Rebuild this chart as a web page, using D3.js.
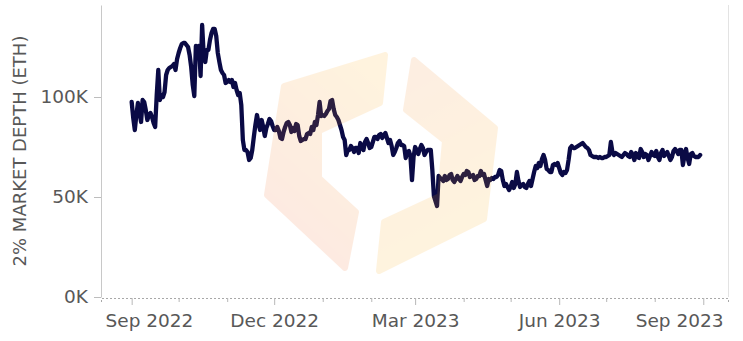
<!DOCTYPE html>
<html>
<head>
<meta charset="utf-8">
<script src="https://cdn.jsdelivr.net/npm/d3@7"></script>
<style>
  html, body { margin: 0; padding: 0; background: #fff; }
  svg { display: block; font-family: "DejaVu Sans", Verdana, sans-serif; }
</style>
</head>
<body>
<svg id="chart" width="743" height="341"></svg>
<script>
// Daily 2% market depth on ETH order books, in thousands of ETH, from seriesStart.
const seriesStart = "2022-09-01";
const depthK = [
  97.5, 89.5, 83.5, 91, 97, 92.5, 87.5, 98.5, 97.5, 93.5,
  88.5, 91, 92, 90, 87, 85, 101, 113.5, 98.5, 101,
  100, 102.5, 111, 113.5, 114.5, 115, 115.5, 116.5, 113.5, 119,
  122, 124.5, 126.5, 127, 127, 126, 125, 121, 115, 106,
  100.5, 125.5, 123.5, 125.5, 110.5, 136, 121, 117.5, 123.5, 123.5,
  128.5, 132, 134, 134, 130.5, 122, 117.5, 113.5, 112, 111,
  107, 107.5, 108.5, 107.5, 108.5, 105, 107, 103.5, 101, 102,
  96, 78.5, 73.5, 73.5, 72.5, 68.5, 69.5, 73.5, 80, 86,
  91, 87, 83.5, 88.5, 85, 80.5, 84.5, 86.5, 89, 88,
  85.5, 83.5, 83.5, 85, 83, 79.5, 79, 82.5, 85, 87,
  87.5, 86, 82.5, 84.5, 83, 86.5, 86, 80.5, 78, 78.5,
  79, 79, 81.5, 82, 81.5, 85, 83.5, 87.5, 86, 91,
  97.5, 90.5, 91, 90.5, 91.5, 93, 94, 98, 98.5, 94,
  91, 90, 88.5, 86, 83.5, 80, 78.5, 71, 73.5, 73.5,
  75.5, 74.5, 72.5, 74.5, 74.5, 72, 77, 75, 73.5, 77.5,
  79, 77, 74.5, 75, 77.5, 80, 80, 79, 81, 81.5,
  79.5, 81, 82, 79.5, 77, 78.5, 75.5, 71, 72.5, 74.5,
  77, 78, 76, 76, 75.5, 69.5, 72.5, 73, 70.5, 58.5,
  70, 75, 73.5, 71.5, 74, 76, 74.5, 71, 72.5, 73.5,
  73.5, 73.5, 63.5, 50.5, 48, 45.5, 60.5, 59.5, 59, 58,
  60.5, 58.5, 59, 61, 61.5, 58.5, 57.5, 59, 60.5, 59,
  58, 60, 61.5, 61, 63, 62.5, 60, 60.5, 61, 58.5,
  59, 60.5, 60.5, 63, 61, 61.5, 58.5, 55.5, 59, 58.5,
  59.5, 59, 60, 60, 61, 63.5, 63, 58.5, 55.5, 56.5,
  55, 53.5, 55, 57.5, 54.5, 56.5, 62.5, 58, 55, 56,
  56.5, 55, 54.5, 56.5, 58, 55.5, 59, 62.5, 65.5, 64.5,
  67, 65.5, 69, 71, 68.5, 64, 63.5, 62.5, 62.5, 66,
  66.5, 66, 67, 64.5, 62, 61, 62.5, 62, 63.5, 68.5,
  74.5, 75.5, 74.5, 74.5, 75, 75.5, 76, 76.5, 77, 76,
  75, 74.5, 73.5, 71, 70.5, 70, 70, 70, 69.5, 70,
  69.5, 69.5, 70, 70, 70.5, 71, 77.5, 72.5, 71, 72,
  71.5, 71, 70.5, 70, 71, 72, 71.5, 70.5, 70, 72.5,
  71, 68.5, 72, 70, 69.5, 74, 72.5, 70, 71.5, 71,
  68.5, 70.5, 72.5, 71, 70.5, 73, 70, 68.5, 72, 73.5,
  70.5, 71.5, 72.5, 70.5, 68.5, 70, 73, 74, 73, 71.5,
  73.5, 73.5, 66, 70.5, 74, 69.5, 66.5, 71.5, 72, 70.5,
  70, 70, 70, 71
];
const xDomainBounds = ["2022-08-12 10:00", "2023-09-16 19:00"];
const yDomainK = [0, 146];
const yTickValues = [0, 50, 100];
const yTitle = "2% MARKET DEPTH (ETH)";

const width = 743, height = 341;
const plot = { left: 101, right: 728, top: 5, bottom: 297 };
const textColor = "#585858";
const fontSize = 18.5;

const parseDay = d3.timeParse("%Y-%m-%d");
const parseStamp = d3.timeParse("%Y-%m-%d %H:%M");
const start = parseDay(seriesStart);
const points = depthK.map((v, i) => ({ date: d3.timeDay.offset(start, i), value: v }));

const svg = d3.select("#chart");

const x = d3.scaleTime()
  .domain(xDomainBounds.map(parseStamp))
  .range([plot.left, plot.right]);
const y = d3.scaleLinear()
  .domain(yDomainK)
  .range([plot.bottom, plot.top]);

// right frame edge
svg.append("line")
  .attr("x1", plot.right + 0.5).attr("x2", plot.right + 0.5)
  .attr("y1", plot.top).attr("y2", plot.bottom)
  .attr("stroke", "#e3e3e3").attr("stroke-width", 1);

// y axis
const yAxis = svg.append("g")
  .attr("transform", `translate(${plot.left},0)`)
  .call(d3.axisLeft(y)
    .tickValues(yTickValues)
    .tickFormat(d => d + "K")
    .tickSize(7)
    .tickSizeOuter(0)
    .tickPadding(6));
yAxis.select(".domain").attr("stroke", "#c8c8c8");
yAxis.selectAll(".tick line").attr("stroke", "#bdbdbd");
yAxis.selectAll(".tick text")
  .attr("fill", textColor)
  .style("font-size", fontSize + "px")
  .style("font-family", "'DejaVu Sans', Verdana, sans-serif");

// x axis: monthly ticks, quarter months labelled
const isQuarter = d => d.getMonth() % 3 === 2;
const fmt = d3.timeFormat("%b %Y");
const xAxis = svg.append("g")
  .attr("transform", `translate(0,${plot.bottom + 1})`)
  .call(d3.axisBottom(x)
    .ticks(d3.timeMonth.every(1))
    .tickFormat(d => isQuarter(d) ? fmt(d) : "")
    .tickSizeOuter(0)
    .tickSize(4));
xAxis.select(".domain")
  .attr("stroke", "#a8a8a8")
  .attr("stroke-dasharray", "2,2");
xAxis.selectAll(".tick line")
  .attr("stroke", "#b8b8b8")
  .attr("y2", d => isQuarter(d) ? 7 : 4);
xAxis.selectAll(".tick text")
  .attr("fill", textColor)
  .attr("y", 16)
  .style("font-size", fontSize + "px")
  .style("font-family", "'DejaVu Sans', Verdana, sans-serif");

// keep edge labels inside the plot frame
xAxis.selectAll(".tick").each(function (d) {
  const t = d3.select(this).select("text");
  const node = t.node();
  if (!node || !node.textContent) return;
  const w = node.getComputedTextLength();
  const cx = x(d);
  let left = cx - w / 2;
  const minLeft = plot.left + 4, maxRight = plot.right - 5;
  if (left < minLeft) left = minLeft;
  if (left + w > maxRight) left = maxRight - w;
  t.attr("x", left + w / 2 - cx);
});

// y axis title
svg.append("text")
  .attr("transform", `translate(26,${(plot.top + plot.bottom) / 2}) rotate(-90)`)
  .attr("text-anchor", "middle")
  .attr("fill", textColor)
  .style("font-size", "18px")
  .text(yTitle);

// depth line
const line = d3.line()
  .x(d => x(d.date))
  .y(d => y(d.value));
svg.append("path")
  .datum(points)
  .attr("fill", "none")
  .attr("stroke", "#0a0a45")
  .attr("stroke-width", 4.3)
  .attr("stroke-linejoin", "round")
  .attr("stroke-linecap", "round")
  .attr("d", line);

// translucent brand mark over the plot
const defs = svg.append("defs");
const gLeft = defs.append("linearGradient").attr("id", "markLeft")
  .attr("x1", "0.7").attr("y1", "0").attr("x2", "0.2").attr("y2", "1");
gLeft.append("stop").attr("offset", "0").attr("stop-color", "#ffae1c");
gLeft.append("stop").attr("offset", "0.55").attr("stop-color", "#f7862a");
gLeft.append("stop").attr("offset", "1").attr("stop-color", "#f06438");
const gRight = defs.append("linearGradient").attr("id", "markRight")
  .attr("x1", "0.3").attr("y1", "0").attr("x2", "0.6").attr("y2", "1");
gRight.append("stop").attr("offset", "0").attr("stop-color", "#f58a36");
gRight.append("stop").attr("offset", "0.6").attr("stop-color", "#fca722");
gRight.append("stop").attr("offset", "1").attr("stop-color", "#ffb31a");

const leftPiece = [[284,86],[385,55],[380,103],[319,131],[319,178],[356,212],[345,268],[267,195]];
const rightPiece = [[414,60],[495,128],[484,219],[379,271],[384,222],[440,196],[445,141],[406,110]];
const mark = svg.append("g").attr("opacity", 0.14);
[[leftPiece, "url(#markLeft)"], [rightPiece, "url(#markRight)"]].forEach(([pts, fill]) => {
  mark.append("path")
    .attr("d", "M" + pts.map(p => p.join(",")).join("L") + "Z")
    .attr("fill", fill)
    .attr("stroke", fill)
    .attr("stroke-width", 6)
    .attr("stroke-linejoin", "round");
});
</script>
</body>
</html>
